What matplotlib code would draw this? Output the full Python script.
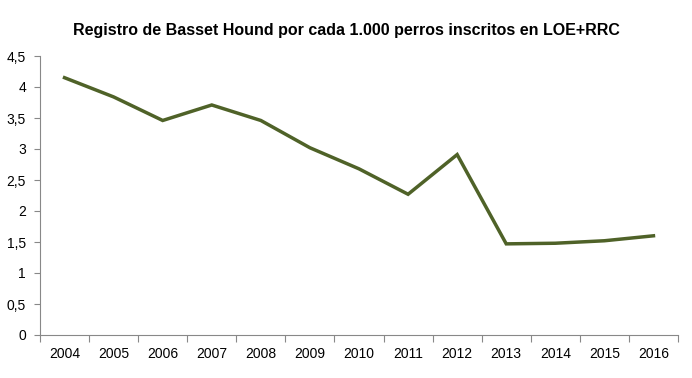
import matplotlib
matplotlib.use('Agg')
import matplotlib.pyplot as plt
import numpy as np

# datos
years = ['2004', '2005', '2006', '2007', '2008', '2009', '2010',
         '2011', '2012', '2013', '2014', '2015', '2016']
values = [4.15, 3.84, 3.46, 3.71, 3.46, 3.02, 2.68,
          2.27, 2.91, 1.47, 1.48, 1.52, 1.60]
yticks = [0, 0.5, 1, 1.5, 2, 2.5, 3, 3.5, 4, 4.5]

plt.rcParams['font.family'] = ['Liberation Sans', 'DejaVu Sans']

fig = plt.figure(figsize=(6.92, 3.78), dpi=100)
ax = fig.add_axes([40/692, 43/378, 638/692, 279/378])

x = np.arange(len(years))
ax.plot(x, values, color='#4f6228', linewidth=2.5, solid_joinstyle='miter')

ax.set_xlim(-0.5, len(years) - 0.5)
ax.set_ylim(0, 4.5)
ax.set_yticks(yticks)
ax.set_yticklabels([('%g' % v).replace('.', ',') for v in yticks], fontsize=10)

# marcas del eje x entre categorías
ax.set_xticks(np.arange(-0.5, len(years)), minor=False)
ax.set_xticklabels([])
ax.set_xticks(x, minor=True)
ax.set_xticklabels(years, minor=True, fontsize=10)
ax.tick_params(axis='x', which='major', length=5, color='#888888', direction='out')
ax.tick_params(axis='x', which='minor', length=0, pad=9)
ax.tick_params(axis='y', length=4, color='#888888', direction='out', pad=6)

for s in ['top', 'right']:
    ax.spines[s].set_visible(False)
for s in ['left', 'bottom']:
    ax.spines[s].set_color('#888888')

fig.text(0.5, 348/378, 'Registro de Basset Hound por cada 1.000 perros inscritos en LOE+RRC',
         ha='center', va='center', fontsize=11.5, fontweight='bold')

fig.savefig('out.png', dpi=100)
